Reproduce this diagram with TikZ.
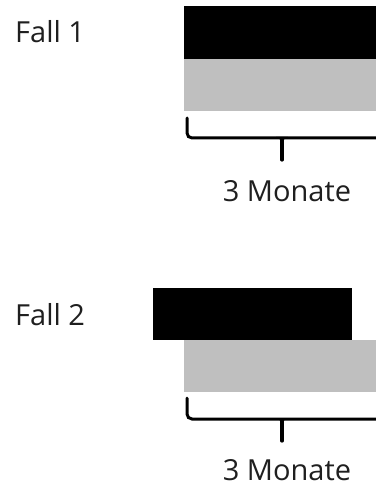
\documentclass[tikz,border=0pt]{standalone}
\usepackage{fontspec}
\setmainfont{Open Sans}
\definecolor{barblack}{RGB}{0,0,0}
\definecolor{bargray}{RGB}{191,191,191}
\begin{document}
\begin{tikzpicture}[x=1bp,y=-1bp,
  lbl/.style={anchor=base west,inner sep=0pt,font=\fontsize{29bp}{34bp}\selectfont,text=black!88},
  mlbl/.style={anchor=base,inner sep=0pt,font=\fontsize{29bp}{34bp}\selectfont,text=black!88},
  darkbar/.style={fill=barblack,draw=none},
  lightbar/.style={fill=bargray,draw=none},
  bracket/.style={line width=3bp,line cap=round,rounded corners=5bp},
  bracetip/.style={line width=3.2bp,line cap=round}]
\useasboundingbox (0,0) rectangle (375,486);
% case 1
\node[lbl] (f1) at (15,43) {Fall 1};
\fill[darkbar] (184,6) rectangle (380,59);
\fill[lightbar] (184,59) rectangle (380,111);
\draw[bracket] (187,118) -- (187,138) -- (380,138);
\draw[bracetip] (282,140) -- (282,160);
\fill (276,137) .. controls (280,138) and (281,140) .. (281,146) -- (283,146) .. controls (283,140) and (284,138) .. (288,137) -- cycle;
\node[mlbl] (m1) at (287,201) {3 Monate};
% case 2
\node[lbl] (f2) at (15,325) {Fall 2};
\fill[darkbar] (153,288) rectangle (352,340);
\fill[lightbar] (184,340) rectangle (380,392);
\draw[bracket] (187,398) -- (187,419) -- (380,419);
\draw[bracetip] (282,421) -- (282,441);
\fill (276,418) .. controls (280,419) and (281,421) .. (281,427) -- (283,427) .. controls (283,421) and (284,419) .. (288,418) -- cycle;
\node[mlbl] (m2) at (287,480) {3 Monate};
\end{tikzpicture}
\end{document}
